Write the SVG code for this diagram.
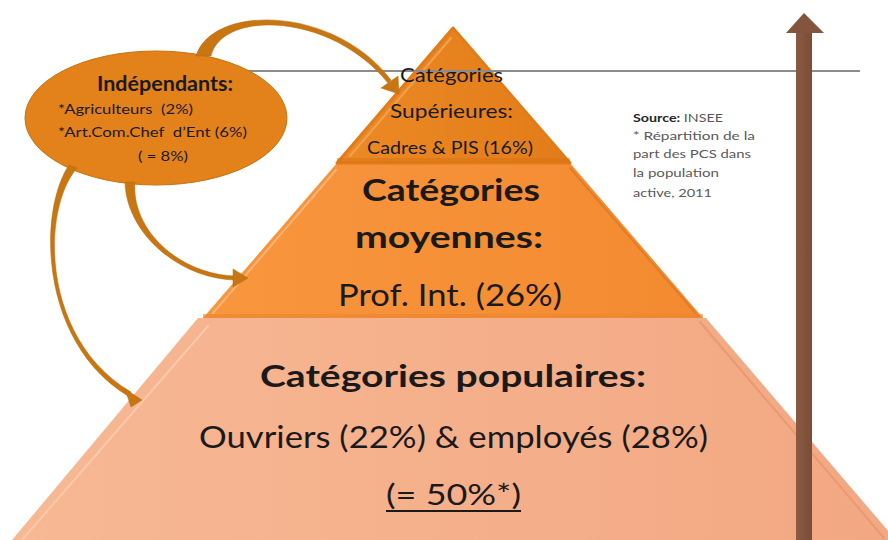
<svg xmlns="http://www.w3.org/2000/svg" width="888" height="540" viewBox="0 0 888 540">
<defs>
<style>
text{font-family:Lato,"Open Sans","Liberation Sans",sans-serif;fill:#1a1a1a;white-space:pre}
.b{font-weight:bold}
.conn{fill:#C87612;stroke:#B86A0E;stroke-width:0.5}
.src{font-size:12px;fill:#595959}
.hl{fill:none;stroke-width:2;stroke-linecap:round}
</style>
<linearGradient id="gTop" x1="0" y1="0" x2="1" y2="0">
<stop offset="0" stop-color="#EC8A26"/><stop offset="1" stop-color="#E27C18"/>
</linearGradient>
<linearGradient id="gMid" x1="0" y1="0" x2="1" y2="0">
<stop offset="0" stop-color="#F8963E"/><stop offset="1" stop-color="#F38A30"/>
</linearGradient>
<linearGradient id="gBot" x1="0" y1="0" x2="1" y2="0">
<stop offset="0" stop-color="#F7B894"/><stop offset="1" stop-color="#F2A882"/>
</linearGradient>
<linearGradient id="gBrown" x1="0" y1="0" x2="1" y2="0">
<stop offset="0" stop-color="#8A5A43"/><stop offset="1" stop-color="#7A4D38"/>
</linearGradient>
</defs>
<rect width="888" height="540" fill="#FFFFFF"/>

<g id="node-populaires">
<polygon points="198,318 706,318 896,540 12,540" fill="url(#gBot)"/>
<path class="hl" d="M208 326 L22 540" stroke="#FAC9AC"/>
<path class="hl" d="M700 322 L884 538" stroke="#E89A74" stroke-width="1.5"/>
<text class="b" x="260" y="387" font-size="31" textLength="386" lengthAdjust="spacingAndGlyphs">Catégories populaires:</text>
<text x="199" y="448" font-size="30" textLength="509" lengthAdjust="spacingAndGlyphs">Ouvriers (22%) &amp; employés (28%)</text>
<text x="386" y="505" font-size="29" textLength="135" lengthAdjust="spacingAndGlyphs">(= 50%*)</text>
<rect x="386" y="510" width="135" height="2" fill="#1a1a1a"/>
</g>

<g id="node-moyennes">
<polygon points="337,163 570,163 703,318 203,318" fill="url(#gMid)"/>
<path class="hl" d="M336 170 L213 313" stroke="#FBB474"/>
<path class="hl" d="M570 168 L698 316" stroke="#E07E28" stroke-width="1.5"/>
<rect x="203" y="314" width="500" height="4" fill="#E98530" opacity="0.6"/>
<text class="b" x="362" y="201" font-size="31" textLength="178" lengthAdjust="spacingAndGlyphs">Catégories</text>
<text class="b" x="355" y="248" font-size="31" textLength="188" lengthAdjust="spacingAndGlyphs">moyennes:</text>
<text x="338" y="306" font-size="30" textLength="224" lengthAdjust="spacingAndGlyphs">Prof. Int. (26%)</text>
</g>

<g id="node-superieures">
<polygon points="453,28 570,163 337,163" fill="url(#gTop)" stroke="#E27C18" stroke-width="3" stroke-linejoin="round"/>
<path class="hl" d="M451 38 L350 156" stroke="#F2A050" stroke-width="1.5"/>
<rect x="337" y="158" width="233" height="5" fill="#D87214" opacity="0.5"/>
</g>

<g id="rule-line">
<line x1="245" y1="71" x2="860" y2="71" stroke="#8C8C8C" stroke-width="2"/>
</g>

<g id="brown-arrow">
<rect x="796" y="31" width="16" height="509" fill="url(#gBrown)"/>
<polygon points="804,13 824,33 786,33" fill="#83553F"/>
</g>

<g id="node-superieures-text">
<text x="400" y="82" font-size="20" textLength="103" lengthAdjust="spacingAndGlyphs">Catégories</text>
<text x="390" y="118" font-size="20" textLength="123" lengthAdjust="spacingAndGlyphs">Supérieures:</text>
<text x="367" y="154" font-size="17" textLength="166" lengthAdjust="spacingAndGlyphs">Cadres &amp; PIS (16%)</text>
</g>

<g id="node-independants">
<ellipse cx="156" cy="118" rx="131" ry="67" fill="#E3821A" stroke="#C9720F" stroke-width="1"/>
<text class="b" x="97" y="91" font-size="20" textLength="136" lengthAdjust="spacingAndGlyphs">Indépendants:</text>
<text x="58" y="114" font-size="13" textLength="135" lengthAdjust="spacingAndGlyphs">*Agriculteurs  (2%)</text>
<text x="58" y="137" font-size="13" textLength="189" lengthAdjust="spacingAndGlyphs">*Art.Com.Chef  d’Ent (6%)</text>
<text x="138" y="161" font-size="13" textLength="50" lengthAdjust="spacingAndGlyphs">( = 8%)</text>
</g>

<g id="connectors">
<path class="conn" d="M196 56 C212 4 334 5 391 80 L388 83 C331 12 222 10 211 56 Z"/>
<polygon class="conn" points="399,94 398,76 381,88"/>
<path class="conn" d="M125 182 C126 233 179 279 236 280 L236 276 C181 275 131 231 135 182 Z"/>
<polygon class="conn" points="248,278 233,269 233,287"/>
<path class="conn" d="M69 165 C38 211 39 342 128 396 L131 392 C41 339 41 210 77 168 Z"/>
<polygon class="conn" points="142,400 125,389 131,407"/>
</g>

<g id="source-note">
<text class="src" x="633" y="122" textLength="90" lengthAdjust="spacingAndGlyphs"><tspan class="b" fill="#262626">Source:</tspan> INSEE</text>
<text class="src" x="633" y="140" textLength="122" lengthAdjust="spacingAndGlyphs">* Répartition de la</text>
<text class="src" x="633" y="158" textLength="118" lengthAdjust="spacingAndGlyphs">part des PCS dans</text>
<text class="src" x="633" y="177" textLength="86" lengthAdjust="spacingAndGlyphs">la population</text>
<text class="src" x="633" y="197" textLength="79" lengthAdjust="spacingAndGlyphs">active, 2011</text>
</g>
</svg>
